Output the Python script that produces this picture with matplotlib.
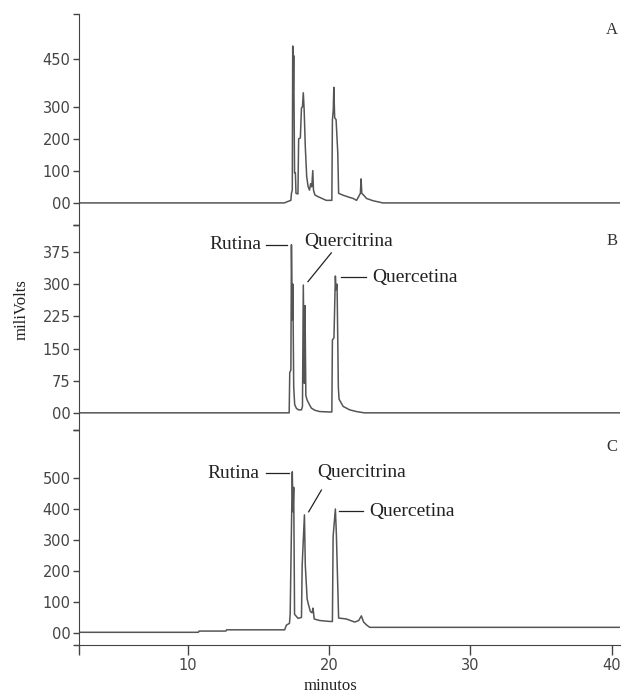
import numpy as np
import matplotlib
matplotlib.use("Agg")
import matplotlib.pyplot as plt

# retention time (min) / detector response (mV) for the three runs
t_a = [2.3, 16.85, 17.0, 17.3, 17.34, 17.40, 17.43, 17.47, 17.50, 17.56, 17.62, 17.66,
       17.80, 17.85, 17.97, 18.05, 18.12, 18.18, 18.24, 18.32, 18.42, 18.52, 18.62, 18.70,
       18.78, 18.85, 18.90, 19.0, 19.2, 19.45, 19.8, 20.2, 20.24, 20.30, 20.34, 20.40,
       20.50, 20.62, 20.68, 21.0, 21.4, 21.7, 21.95, 22.1, 22.22, 22.27, 22.32, 22.5,
       22.65, 23.1, 23.8, 40.6]
mv_a = [0, 0, 3, 8, 30, 40, 490, 350, 460, 94, 94, 30,
        28, 200, 203, 297, 300, 344, 290, 176, 82, 51, 40, 60,
        50, 101, 40, 25, 20, 15, 8, 8, 259, 290, 361, 266,
        260, 156, 30, 24, 18, 14, 8, 20, 30, 75, 30, 22,
        14, 7, 0, 0]

t_b = [2.3, 17.18, 17.22, 17.30, 17.34, 17.40, 17.44, 17.50, 17.57, 17.7, 17.85, 18.05,
       18.12, 18.18, 18.25, 18.30, 18.36, 18.45, 18.6, 18.75, 19.0, 19.34, 20.05, 20.2,
       20.24, 20.35, 20.45, 20.50, 20.57, 20.66, 20.71, 21.0, 21.46, 21.94, 22.5, 40.6]
mv_b = [0, 0, 94, 100, 392, 217, 300, 60, 19, 10, 7, 7,
        15, 298, 69, 250, 40, 30, 20, 11, 6, 3, 2, 2,
        170, 175, 319, 287, 300, 60, 32, 15, 7, 3, 0, 0]

t_c = [2.3, 10.75, 10.8, 12.7, 12.75, 16.86, 16.98, 17.2, 17.25, 17.40, 17.45, 17.50,
       17.56, 17.81, 18.05, 18.1, 18.26, 18.32, 18.45, 18.52, 18.68, 18.8, 18.87, 18.95,
       19.34, 20.05, 20.24, 20.29, 20.45, 20.52, 20.60, 20.68, 21.23, 21.82, 22.1, 22.29,
       22.45, 22.65, 22.88, 40.6]
mv_c = [2, 2, 6, 6, 10, 10, 25, 31, 60, 520, 391, 470,
        60, 47, 50, 219, 381, 220, 110, 96, 69, 65, 80, 45,
        40, 37, 37, 311, 400, 320, 182, 48, 45, 35, 40, 55,
        35, 26, 18, 18]

yt_a = [0, 100, 200, 300, 450]
yt_b = [0, 75, 150, 225, 300, 375]
yt_c = [0, 100, 200, 300, 400, 500]
xt = [10, 20, 30, 40]

GREY = "#555555"
SERIF = "Liberation Serif"

fig = plt.figure(figsize=(6.23, 6.94), dpi=100)
W, H = 623.0, 694.0
left, right = 79 / W, 620 / W

def panel(top_px, bot_px, ylim, ticks, t, mv, tag):
    ax = fig.add_axes([left, 1 - bot_px / H, right - left, (bot_px - top_px) / H])
    ax.plot(t, mv, color=GREY, lw=1.1)
    ax.set_xlim(2.3, 40.6)
    ax.set_ylim(*ylim)
    for s in ["top", "right", "bottom"]:
        ax.spines[s].set_visible(False)
    ax.spines["left"].set_color("#444444")
    ax.set_yticks(list(ticks) + list(ylim))
    ax.set_yticklabels(["00"] + [str(v) for v in ticks[1:]] + ["", ""])
    ax.tick_params(axis="y", direction="out", length=4, width=1, color="#444444",
                   labelsize=10.5, labelcolor="#444444", pad=2)
    ax.set_xticks([])
    ax.text(0.985, 0.96, tag, transform=ax.transAxes, ha="center", va="top",
            family=SERIF, fontsize=12, color="#333333")
    return ax

ax_a = panel(14, 225, (-69, 590), yt_a, t_a, mv_a, "A")
ax_b = panel(225, 430, (-40, 438), yt_b, t_b, mv_b, "B")
ax_c = panel(430, 645, (-39, 655), yt_c, t_c, mv_c, "C")

ax_c.spines["bottom"].set_visible(True)
ax_c.spines["bottom"].set_color("#444444")
ax_c.set_xticks([2.3] + xt)
ax_c.set_xticklabels([""] + [str(v) for v in xt])
ax_c.tick_params(axis="x", direction="out", length=7, width=1, color="#444444",
                 labelsize=10.5, labelcolor="#444444", pad=2)

# peak labels
def label_peaks(ax, rut, qct, qce):
    kw = dict(family=SERIF, fontsize=14, color="#222222", va="center")
    (rx, ry, rl0, rl1) = rut
    ax.text(rx, ry, "Rutina", ha="right", **kw)
    ax.plot([rl0, rl1], [ry, ry], color="#222222", lw=0.9)
    (qx, qy, q0, q1) = qct
    ax.text(qx, qy, "Quercitrina", ha="left", **kw)
    ax.plot([q0[0], q1[0]], [q0[1], q1[1]], color="#222222", lw=0.9)
    (ex, ey, e0, e1) = qce
    ax.text(ex, ey, "Quercetina", ha="left", **kw)
    ax.plot([e0, e1], [ey, ey], color="#222222", lw=0.9)

label_peaks(ax_b, (15.24, 392, 15.52, 17.0),
            (18.28, 399, (20.16, 373), (18.51, 306)),
            (23.09, 316, 20.86, 22.63))
label_peaks(ax_c, (15.1, 516, 15.52, 17.16),
            (19.2, 519, (19.46, 461), (18.56, 391)),
            (22.88, 393, 20.69, 22.38))

fig.text(22 / W, 1 - 310 / H, "miliVolts", rotation=90, ha="center", va="center",
         family=SERIF, fontsize=12, color="#222222")
fig.text(330 / W, 1 - 686 / H, "minutos", ha="center", va="center",
         family=SERIF, fontsize=12, color="#222222")

fig.savefig("out.png", dpi=100)
